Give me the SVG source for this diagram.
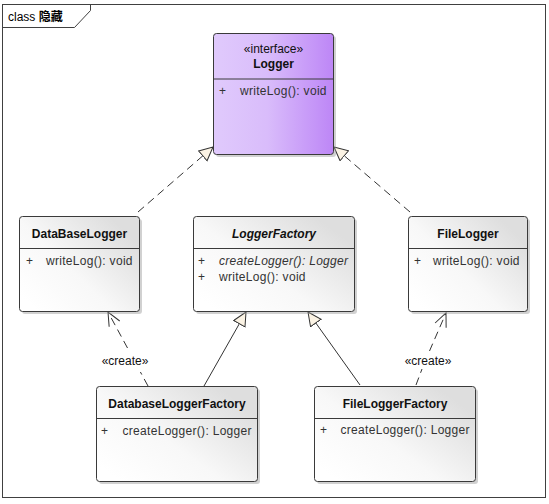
<svg xmlns="http://www.w3.org/2000/svg" width="549" height="504" viewBox="0 0 549 504">
<defs>
<linearGradient id="gWhite" x1="0.15" y1="1" x2="1" y2="0.3">
<stop offset="0" stop-color="#ffffff"/>
<stop offset="0.45" stop-color="#f8f8f8"/>
<stop offset="1" stop-color="#dedede"/>
</linearGradient>
<linearGradient id="gPurple" x1="0" y1="0" x2="1" y2="0">
<stop offset="0" stop-color="#e0cafc"/>
<stop offset="0.45" stop-color="#d9bcfb"/>
<stop offset="1" stop-color="#bd86f6"/>
</linearGradient>
<marker id="tri" markerUnits="userSpaceOnUse" markerWidth="16" markerHeight="16" refX="14" refY="7" orient="auto" viewBox="0 0 16 16">
<path d="M0.5,0.5 L14,7 L0.5,13.5 Z" fill="#fbf3e4" stroke="#333" stroke-width="1"/>
</marker>
<marker id="open" markerUnits="userSpaceOnUse" markerWidth="16" markerHeight="16" refX="14" refY="7" orient="auto" viewBox="0 0 16 16">
<path d="M0.5,1 L14,7 L0.5,13" fill="none" stroke="#333" stroke-width="1"/>
</marker>
</defs>
<style>
.box{stroke:#3a3a3a;stroke-width:1;fill:url(#gWhite)}
.ibox{stroke:#3a3a3a;stroke-width:1;fill:url(#gPurple)}
.shadow{fill:#9a9a9a;opacity:0.45}
.div{stroke:#3a3a3a;stroke-width:1}
.t{font-family:"Liberation Sans",Arial,sans-serif;font-size:12px;fill:#111;font-weight:bold;text-anchor:middle}
.m{font-family:"Liberation Sans",Arial,sans-serif;font-size:12px;fill:#333;letter-spacing:0.3px}
.st{font-family:"Liberation Sans",Arial,sans-serif;font-size:12px;fill:#111;text-anchor:middle}
.lbl{font-family:"Liberation Sans",Arial,sans-serif;font-size:12px;fill:#111;text-anchor:middle}
.c{fill:none;stroke:#333;stroke-width:1}
.d{stroke-dasharray:8,5}
</style>

<g id="frame">
<rect x="2.5" y="4.5" width="543" height="493" fill="#ffffff" stroke="#404040" stroke-width="1"/>
<path d="M2.5,27.5 L74.5,27.5 L90.5,10.5 L90.5,4.5" fill="none" stroke="#404040" stroke-width="1"/>
<text x="8" y="20.5" font-family="'Liberation Sans','Noto Sans CJK SC',sans-serif" font-size="12" fill="#000">class <tspan font-weight="bold" font-family="'Noto Sans CJK SC',sans-serif">隐藏</tspan></text>
</g>

<g id="connectors">
<path class="c d" d="M138,212 L213,147" marker-end="url(#tri)"/>
<path class="c d" d="M410,212 L334,147" marker-end="url(#tri)"/>
<path class="c" d="M204,386 L246,312" marker-end="url(#tri)"/>
<path class="c" d="M360,385 L308,312" marker-end="url(#tri)"/>
<path class="c d" d="M148,386 L140.4,372 M127.5,348 L108,312" marker-end="url(#open)"/>
<path class="c d" d="M416,385 L422,369 M429.5,351 L446,313" marker-end="url(#open)"/>
<text class="lbl" x="125" y="365">«create»</text>
<text class="lbl" x="428" y="364.5">«create»</text>
</g>

<g id="Logger">
<rect class="shadow" x="216" y="36" width="120" height="121" rx="3"/>
<rect class="ibox" x="213.5" y="33.5" width="120" height="121" rx="3"/>
<line class="div" x1="213.5" y1="79" x2="333.5" y2="79"/>
<text class="st" x="273.5" y="53">«interface»</text>
<text class="t" x="273.5" y="67.5">Logger</text>
<text class="m" x="219" y="95">+</text>
<text class="m" x="240" y="95">writeLog(): void</text>
</g>

<g id="DataBaseLogger">
<rect class="shadow" x="22" y="219" width="120" height="95" rx="3"/>
<rect class="box" x="19.5" y="216.5" width="120" height="95" rx="3"/>
<line class="div" x1="19.5" y1="248.5" x2="139.5" y2="248.5"/>
<text class="t" x="79.5" y="238">DataBaseLogger</text>
<text class="m" x="26" y="265">+</text>
<text class="m" x="46" y="265">writeLog(): void</text>
</g>

<g id="LoggerFactory">
<rect class="shadow" x="196" y="219" width="161" height="95" rx="3"/>
<rect class="box" x="193.5" y="216.5" width="161" height="95" rx="3"/>
<line class="div" x1="193.5" y1="248.5" x2="354.5" y2="248.5"/>
<text class="t" x="274" y="238" font-style="italic">LoggerFactory</text>
<text class="m" x="198" y="265">+</text>
<text class="m" x="219" y="265" font-style="italic">createLogger(): Logger</text>
<text class="m" x="198" y="281">+</text>
<text class="m" x="219" y="281">writeLog(): void</text>
</g>

<g id="FileLogger">
<rect class="shadow" x="411" y="219" width="119" height="95" rx="3"/>
<rect class="box" x="408.5" y="216.5" width="119" height="95" rx="3"/>
<line class="div" x1="408.5" y1="248.5" x2="527.5" y2="248.5"/>
<text class="t" x="468" y="238">FileLogger</text>
<text class="m" x="414" y="265">+</text>
<text class="m" x="433" y="265">writeLog(): void</text>
</g>

<g id="DatabaseLoggerFactory">
<rect class="shadow" x="99" y="389" width="161" height="95" rx="3"/>
<rect class="box" x="96.5" y="386.5" width="161" height="95" rx="3"/>
<line class="div" x1="96.5" y1="418.5" x2="257.5" y2="418.5"/>
<text class="t" x="177" y="408">DatabaseLoggerFactory</text>
<text class="m" x="101" y="434.5">+</text>
<text class="m" x="122.5" y="434.5">createLogger(): Logger</text>
</g>

<g id="FileLoggerFactory">
<rect class="shadow" x="317" y="389" width="161" height="95" rx="3"/>
<rect class="box" x="314.5" y="386.5" width="161" height="95" rx="3"/>
<line class="div" x1="314.5" y1="418.5" x2="475.5" y2="418.5"/>
<text class="t" x="395" y="407.5">FileLoggerFactory</text>
<text class="m" x="320" y="434">+</text>
<text class="m" x="340.5" y="434">createLogger(): Logger</text>
</g>
</svg>
